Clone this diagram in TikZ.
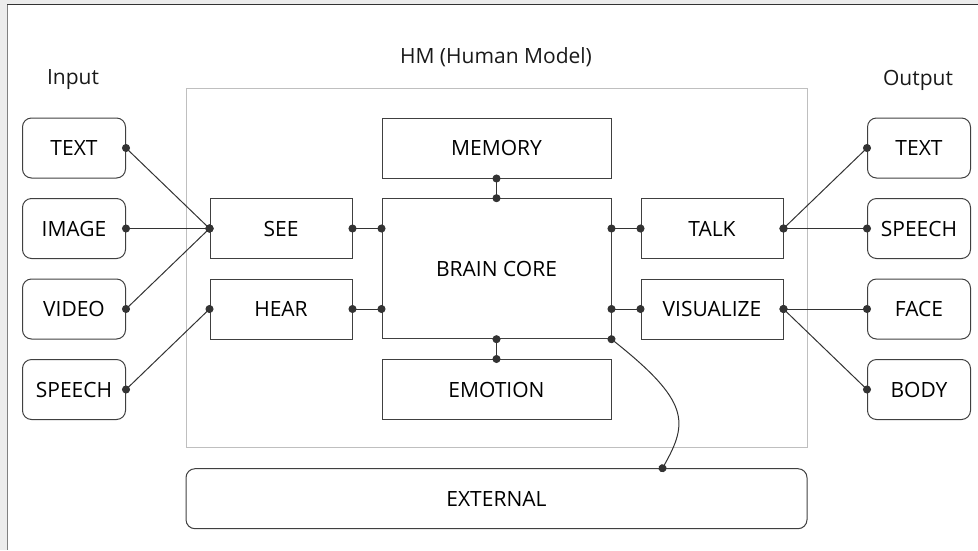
\documentclass[tikz,border=0pt]{standalone}
\usepackage{fontspec}
\setmainfont{Open Sans}
\usetikzlibrary{positioning,arrows.meta}

\begin{document}
\begin{tikzpicture}[x=1pt, y=-1pt,
font=\fontsize{21}{25}\selectfont,
label/.style = {inner sep=0pt, text=black!90},
block/.style = {rectangle, draw=black!75, line width=1pt, minimum height=60pt,
                minimum width=142pt, align=center, inner sep=0pt},
core/.style = {block, minimum width=229pt},
port/.style = {block, rounded corners=9pt, minimum width=103pt},
line/.style = {draw=black!80, line width=1pt,
               {Circle[length=8pt]}-{Circle[length=8pt]},
               shorten <=-4pt, shorten >=-4pt}]

\useasboundingbox (0,0) rectangle (978,550);
% window frame
\fill[gray!15] (0,0) rectangle (7,550);
\fill[gray!15] (0,0) rectangle (978,4);
\draw[gray, line width=1.5pt] (7.5,4) -- (7.5,550);
\draw[black!80, line width=1.2pt] (7,4.5) -- (978,4.5);

% titles
\node [label] (in_title) at (73,80) {Input};
\node [label] (out_title) at (918,80) {Output};
\node [label] (hm_title) at (496,57) {HM (Human Model)};

% human model frame
\draw[black!25, line width=1pt] (186,88) rectangle (807,447);

% inputs
\node [port] (in_text) at (74,148) {TEXT};
\node [port] (in_image) at (74,228.5) {IMAGE};
\node [port] (in_video) at (74,309) {VIDEO};
\node [port] (in_speech) at (74,389.5) {SPEECH};

% outputs
\node [port] (out_text) at (919,148) {TEXT};
\node [port] (out_speech) at (919,228.5) {SPEECH};
\node [port] (out_face) at (919,309) {FACE};
\node [port] (out_body) at (919,389.5) {BODY};

% human model
\node [block] (see) at (281,228.5) {SEE};
\node [block] (hear) at (281,309) {HEAR};
\node [core, minimum height=140pt] (brain) at (496.5,268.7) {BRAIN CORE};
\node [core] (memory) at (496.5,148) {MEMORY};
\node [core] (emotion) at (496.5,389.5) {EMOTION};
\node [block] (talk) at (712,228.5) {TALK};
\node [block] (visualize) at (712,309) {VISUALIZE};

\node [port, minimum width=621pt] (external) at (496.5,498.7) {EXTERNAL};

\begin{scope}[every path/.style=line]
\path (in_text.east) -- (see.west);
\path (in_image.east) -- (see.west);
\path (in_video.east) -- (see.west);
\path (in_speech.east) -- (hear.west);

\path (see.east) -- (brain.west |- see.east);
\path (hear.east) -- (brain.west |- hear.east);
\path (memory.south) -- (brain.north);
\path (brain.south) -- (emotion.north);
\path (brain.east |- talk.west) -- (talk.west);
\path (brain.east |- visualize.west) -- (visualize.west);

\path (talk.east) -- (out_text.west);
\path (talk.east) -- (out_speech.west);
\path (visualize.east) -- (out_face.west);
\path (visualize.east) -- (out_body.west);

\path (brain.south east) .. controls +(78,62) and +(26,-46) .. ([xshift=477pt]external.north west);
\end{scope}
\end{tikzpicture}
\end{document}
